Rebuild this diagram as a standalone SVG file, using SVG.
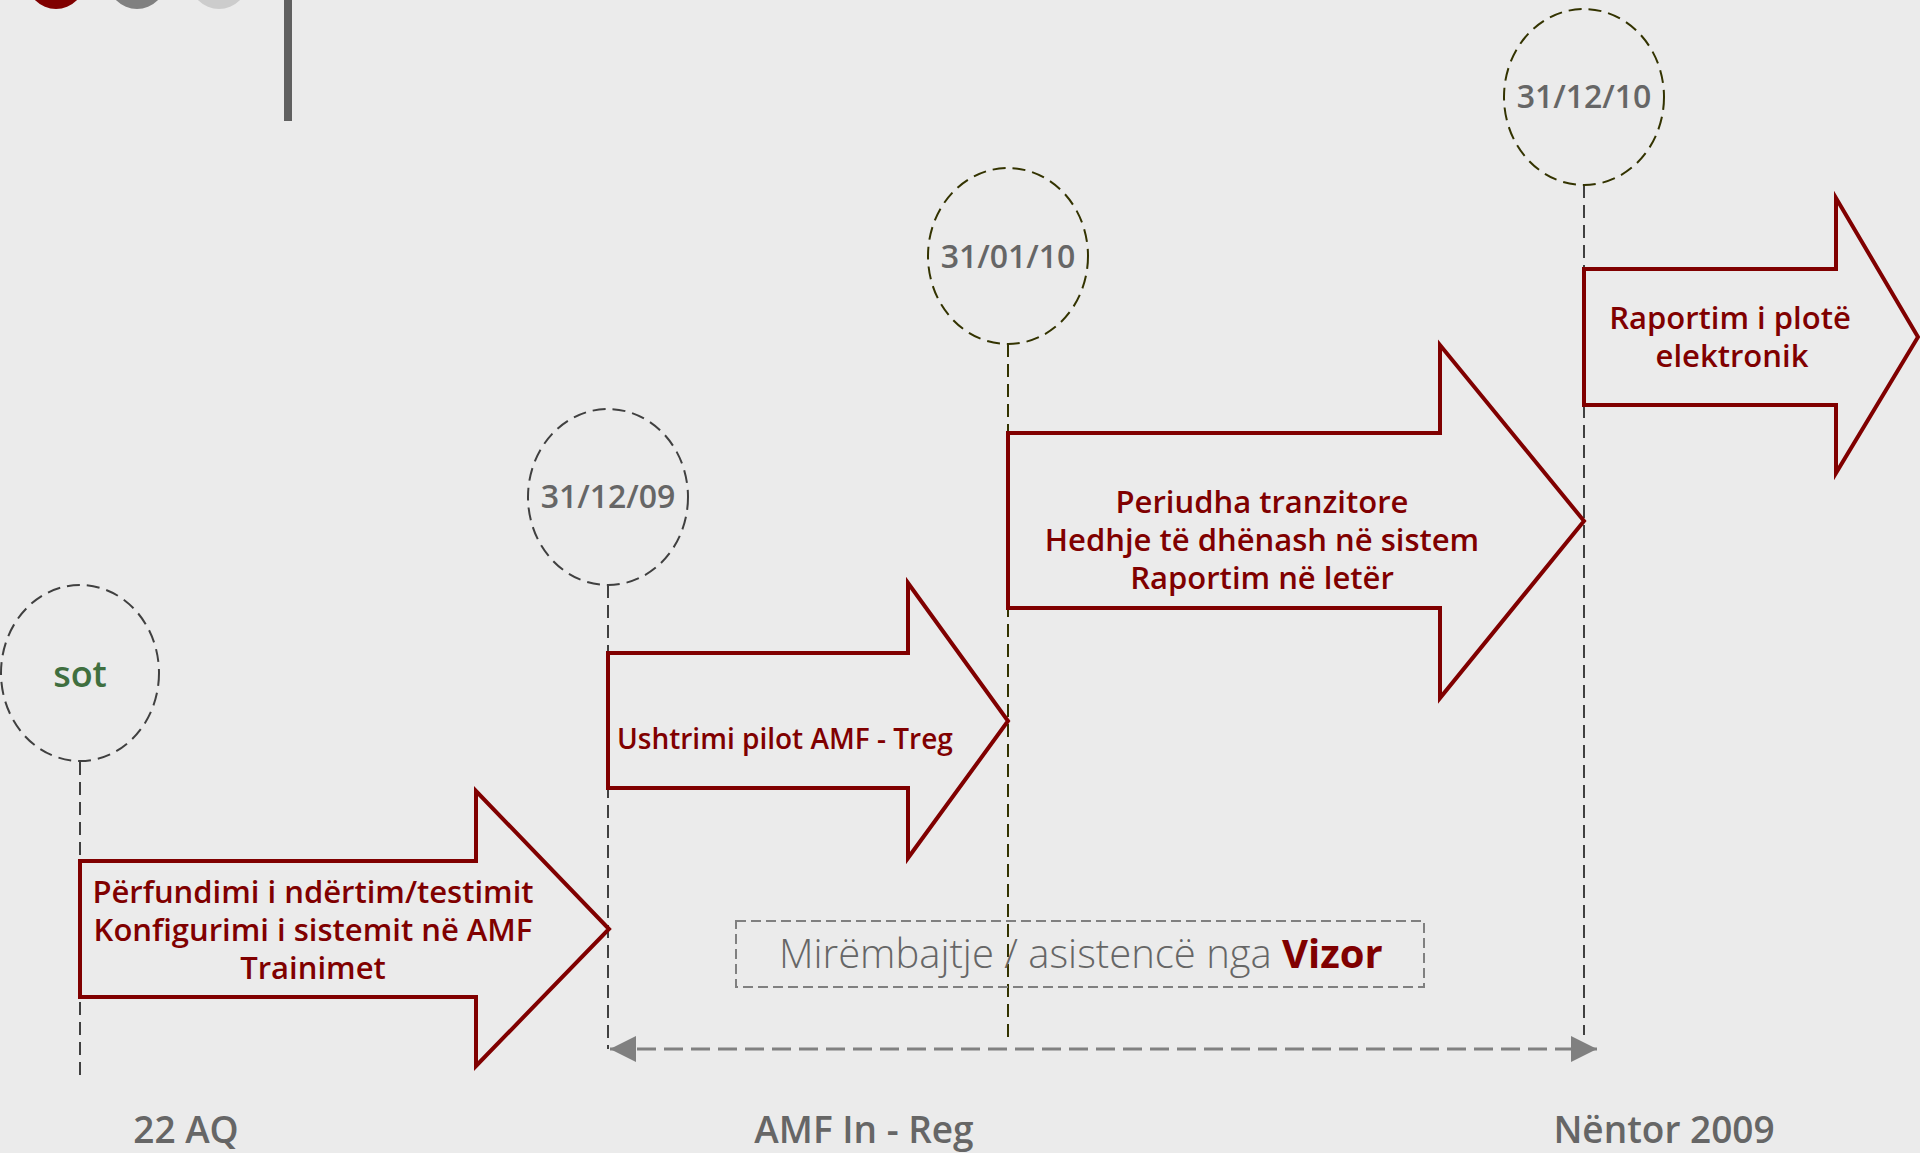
<svg xmlns="http://www.w3.org/2000/svg" width="1920" height="1153" viewBox="0 0 1920 1153">
<defs>
<style>
.bg{fill:#EBEBEB}
.circ{fill:none;stroke-width:2;stroke-dasharray:13 7}
.dk{stroke:#404040}
.ol{stroke:#333300}
.vline{fill:none;stroke-width:2;stroke-dasharray:13 7}
.blk{fill:#EBEBEB;stroke:#800000;stroke-width:4;stroke-miterlimit:10}
.date{font-family:"Open Sans","Liberation Sans",sans-serif;font-weight:600;font-size:32px;fill:#666666;text-anchor:middle}
.mt{font-family:"Open Sans","Liberation Sans",sans-serif;font-weight:600;font-size:31px;fill:#800000;text-anchor:middle}
.lbl{font-family:"Open Sans","Liberation Sans",sans-serif;font-weight:600;font-size:37px;fill:#666666;text-anchor:middle}
</style>
<marker id="ah" viewBox="0 0 26 26" refX="26" refY="13" markerWidth="26" markerHeight="26" markerUnits="userSpaceOnUse" orient="auto-start-reverse">
<path d="M0,0 L26,13 L0,26 Z" fill="#808080"/>
</marker>
</defs>
<rect class="bg" x="0" y="0" width="1920" height="1153"/>

<g id="header">
<circle cx="56" cy="-20" r="29" fill="#800000"/>
<circle cx="137" cy="-20" r="29" fill="#808080"/>
<circle cx="219" cy="-20" r="29" fill="#CCCCCC"/>
<rect x="284" y="0" width="8" height="121" fill="#606060"/>
</g>

<g id="connectors">
<line class="vline dk" x1="80" y1="762" x2="80" y2="1082"/>
<line class="vline dk" x1="608" y1="585" x2="608" y2="1049"/>
<line class="vline ol" x1="1008" y1="344" x2="1008" y2="1042"/>
<line class="vline dk" x1="1584" y1="185" x2="1584" y2="1035"/>
<line x1="610" y1="1049" x2="1597" y2="1049" stroke="#808080" stroke-width="3" stroke-dasharray="19 8" marker-start="url(#ah)" marker-end="url(#ah)"/>
</g>

<g id="node-sot">
<ellipse class="circ dk" cx="80" cy="673" rx="79" ry="88"/>
<text x="80" y="687" font-family="'Open Sans','Liberation Sans',sans-serif" font-weight="600" font-size="36" fill="#3F6F3F" text-anchor="middle">sot</text>
</g>

<g id="node-d311209">
<ellipse class="circ dk" cx="608" cy="497" rx="80" ry="88"/>
<text class="date" x="608" y="508">31/12/09</text>
</g>

<g id="node-d310110">
<ellipse class="circ ol" cx="1008" cy="256" rx="80" ry="88"/>
<text class="date" x="1008" y="268">31/01/10</text>
</g>

<g id="node-d311210">
<ellipse class="circ ol" cx="1584" cy="97" rx="80" ry="88"/>
<text class="date" x="1584" y="108">31/12/10</text>
</g>

<g id="node-arrow1">
<path class="blk" d="M80,861 L476,861 L476,791 L609,929 L476,1066 L476,997 L80,997 Z"/>
<text class="mt" x="313" y="903" font-size="30.5">Përfundimi i ndërtim/testimit</text>
<text class="mt" x="313" y="941" font-size="30.5">Konfigurimi i sistemit në AMF</text>
<text class="mt" x="313" y="979" font-size="30.5">Trainimet</text>
</g>

<g id="node-arrow2">
<path class="blk" d="M608,653 L908,653 L908,583 L1008,721 L908,858 L908,788 L608,788 Z"/>
<text x="617" y="749" font-family="'Open Sans','Liberation Sans',sans-serif" font-weight="600" font-size="28" fill="#800000">Ushtrimi pilot AMF - Treg</text>
</g>

<g id="node-arrow3">
<path class="blk" d="M1008,433 L1440,433 L1440,345 L1584,521 L1440,698 L1440,608 L1008,608 Z"/>
<text class="mt" x="1262" y="513" font-size="31.5">Periudha tranzitore</text>
<text class="mt" x="1262" y="551" font-size="31.5">Hedhje të dhënash në sistem</text>
<text class="mt" x="1262" y="589" font-size="31.5">Raportim në letër</text>
</g>

<g id="node-arrow4">
<path class="blk" d="M1584,269 L1836,269 L1836,198 L1918,337 L1836,473 L1836,405 L1584,405 Z"/>
<text class="mt" x="1730" y="329">Raportim i plotë</text>
<text class="mt" x="1732" y="367">elektronik</text>
</g>

<g id="node-maintenance">
<rect x="736" y="921" width="688" height="66" fill="none" stroke="#808080" stroke-width="2" stroke-dasharray="10 5"/>
<text x="779" y="968" font-family="'Open Sans','Liberation Sans',sans-serif" font-weight="300" font-size="40" fill="#666666">Mirëmbajtje / asistencë nga <tspan font-weight="700" fill="#800000">Vizor</tspan></text>
</g>

<g id="labels">
<text class="lbl" x="186" y="1143">22 AQ</text>
<text class="lbl" x="864" y="1143">AMF In - Reg</text>
<text class="lbl" x="1664" y="1143">Nëntor 2009</text>
</g>
</svg>
